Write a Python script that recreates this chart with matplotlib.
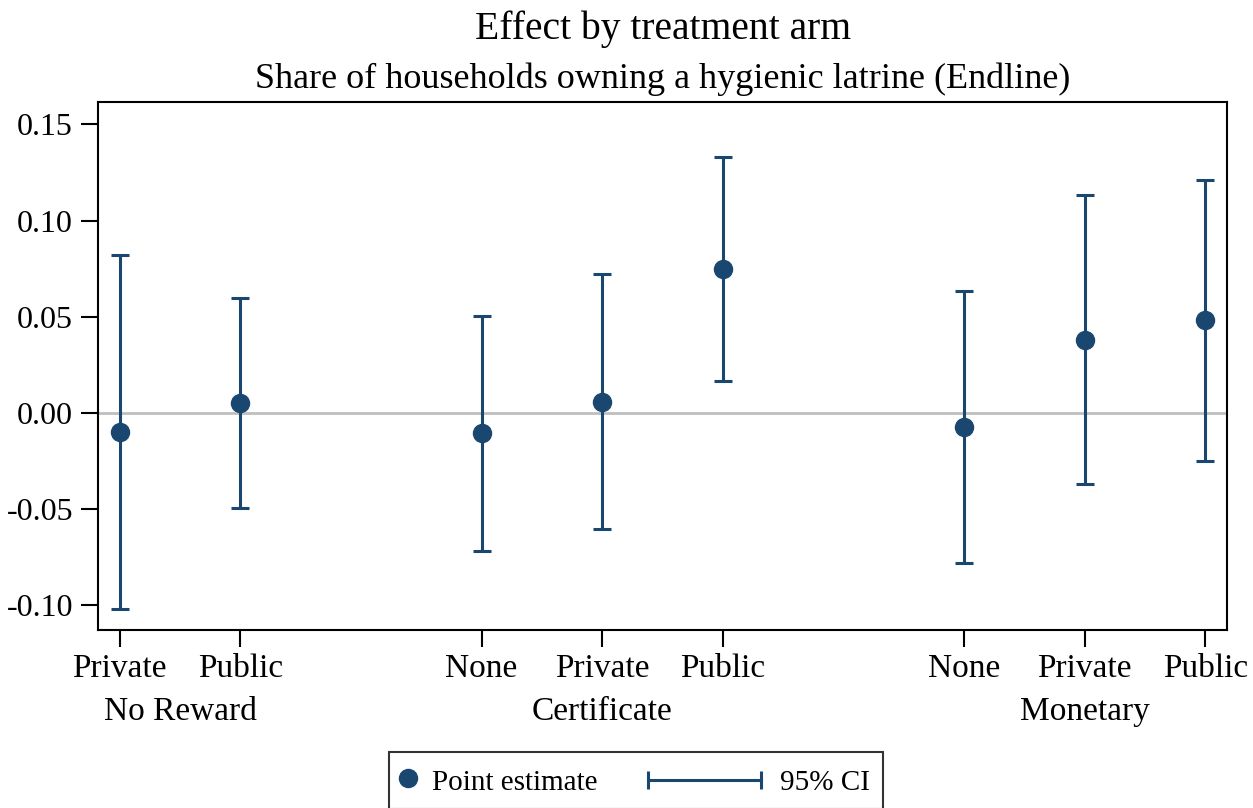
import numpy as np
import matplotlib
matplotlib.use("Agg")
import matplotlib.pyplot as plt
from matplotlib.lines import Line2D
from matplotlib.legend_handler import HandlerBase

plt.rcParams['font.family'] = ['Liberation Serif', 'DejaVu Serif']

# data
arm_labels = ["Private", "Public", "None", "Private", "Public", "None", "Private", "Public"]
positions = [0, 1, 3, 4, 5, 7, 8, 9]
estimate = [-0.0099, 0.0052, -0.0104, 0.0057, 0.0748, -0.0073, 0.0379, 0.0483]
ci_low = [-0.1019, -0.0494, -0.0717, -0.0603, 0.0166, -0.0780, -0.0369, -0.0249]
ci_high = [0.0821, 0.0598, 0.0504, 0.0722, 0.1331, 0.0634, 0.1133, 0.1211]
groups = ["No Reward", "Certificate", "Monetary"]
group_pos = [0.5, 4, 8]

navy = "#1a476f"

class CIHandler(HandlerBase):
    # horizontal line with end caps, drawn leftwards from the handle box
    def create_artists(self, legend, orig_handle, xdescent, ydescent,
                       width, height, fontsize, trans):
        y = height / 2 - ydescent
        x1 = width - xdescent
        x0 = x1 - 3.9 * fontsize
        ln = Line2D([x0, x1], [y, y], color=navy, lw=2.2, marker='|',
                    markersize=13, markeredgewidth=2.2)
        ln.set_transform(trans)
        return [ln]

fig = plt.figure(figsize=(12.53, 8.08), dpi=100)
ax = fig.add_axes([98/1253, 1-630/808, (1227-98)/1253, (630-102)/808])

ax.axhline(0, color="#bfbfbf", lw=2, zorder=1)

est = np.array(estimate)
yerr = [est - np.array(ci_low), np.array(ci_high) - est]
ax.errorbar(positions, estimate, yerr=yerr, fmt='none', ecolor=navy,
            elinewidth=2.2, capsize=6.5, capthick=2.2, zorder=2)
ax.plot(positions, estimate, 'o', color=navy, markersize=13, zorder=3)

ax.set_xlim(-0.18, 9.18)
ax.set_ylim(-0.1128, 0.1616)
ax.set_yticks([-0.10, -0.05, 0.0, 0.05, 0.10, 0.15])
ax.set_yticklabels(["-0.10", "-0.05", "0.00", "0.05", "0.10", "0.15"])
ax.set_xticks(positions)
ax.set_xticklabels(arm_labels)
ax.tick_params(axis='y', labelsize=23, length=12, width=1.5, pad=6)
ax.tick_params(axis='x', labelsize=24, length=12, width=1.5, pad=5)
for s in ax.spines.values():
    s.set_linewidth(1.5)

for g, gp in zip(groups, group_pos):
    ax.text(gp, -0.155, g, ha='center', va='center', fontsize=24,
            transform=ax.get_xaxis_transform())

fig.text(663/1253, 1-29/808, "Effect by treatment arm", ha='center', va='center', fontsize=28.5)
fig.text(663/1253, 1-79/808, "Share of households owning a hygienic latrine (Endline)",
         ha='center', va='center', fontsize=26)

pt_handle = Line2D([], [], ls='none', marker='o', color=navy, markersize=13)
ci_handle = Line2D([], [], color=navy)
leg = fig.legend([pt_handle, ci_handle], ["Point estimate", "95% CI"],
                 loc='upper center', bbox_to_anchor=(636/1253, 1-752/808),
                 ncol=2, fontsize=21, frameon=True, fancybox=False,
                 handlelength=0.4, handleheight=1.2, handletextpad=0.65,
                 columnspacing=5.2, borderpad=0.45, borderaxespad=0.0,
                 handler_map={ci_handle: CIHandler()})
leg.get_frame().set_edgecolor('black')
leg.get_frame().set_linewidth(1.5)

fig.savefig("out.png", dpi=100)
